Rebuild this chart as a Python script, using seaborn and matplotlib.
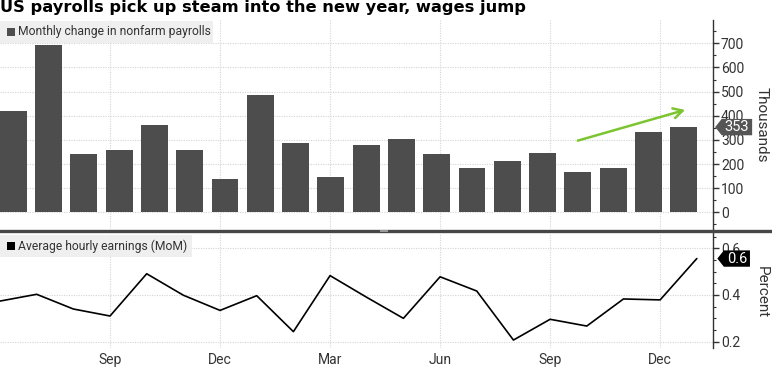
import matplotlib
matplotlib.use("Agg")
import numpy as np
import pandas as pd
import matplotlib.pyplot as plt
import seaborn as sns
from matplotlib.path import Path
from matplotlib.patches import Rectangle
from matplotlib.lines import Line2D
from matplotlib.ticker import MultipleLocator

# ---------------- data ----------------
months = ["Jun 2022", "Jul 2022", "Aug 2022", "Sep 2022", "Oct 2022", "Nov 2022",
          "Dec 2022", "Jan 2023", "Feb 2023", "Mar 2023", "Apr 2023", "May 2023",
          "Jun 2023", "Jul 2023", "Aug 2023", "Sep 2023", "Oct 2023", "Nov 2023",
          "Dec 2023", "Jan 2024"]
payrolls = [421, 691, 243, 257, 362, 260, 137, 484, 289, 148, 278, 304,
            242, 184, 212, 246, 166, 182, 334, 353]
earnings = [0.374, 0.403, 0.340, 0.310, 0.491, 0.399, 0.334, 0.397, 0.243, 0.483,
            0.390, 0.300, 0.478, 0.417, 0.207, 0.296, 0.267, 0.383, 0.379, 0.556]
xtick_months = [3, 6, 9, 12, 15, 18]
xtick_labels = ["Sep", "Dec", "Mar", "Jun", "Sep", "Dec"]
payroll_ticks = [0, 100, 200, 300, 400, 500, 600, 700]
earn_ticks = [0.2, 0.4, 0.6]
title = "US payrolls pick up steam into the new year, wages jump"
legend_top = "Monthly change in nonfarm payrolls"
legend_bot = "Average hourly earnings (MoM)"
trend_start = (16.0, 297)
trend_end = (19.04, 424)

# ---------------- style ----------------
sns.set_theme(style="white")
plt.rcParams["font.family"] = ["Roboto", "DejaVu Sans"]
TXT = "#333333"
GRID = "#d4d4d4"
BAR = "#4d4d4d"

W, H = 772, 368
fig = plt.figure(figsize=(W / 100, H / 100), dpi=100)
fig.patch.set_facecolor("white")


def rect(x0, y0, x1, y1):
    return [x0 / W, 1 - y1 / H, (x1 - x0) / W, (y1 - y0) / H]


ax1 = fig.add_axes(rect(0, 20, 713.3, 229))
ax2 = fig.add_axes(rect(0, 233, 713.3, 348))

# ---------------- top: bars ----------------
df_bar = pd.DataFrame({"month": months, "payrolls": payrolls})
sns.barplot(data=df_bar, x="month", y="payrolls", color=BAR, saturation=1,
            width=0.76, linewidth=0, ax=ax1, zorder=2)
ax1.set_xlim(-0.377, 19.84)
ax1.set_ylim(-69, 796.5)

# ---------------- bottom: line ----------------
df_line = pd.DataFrame({"idx": np.arange(len(months)), "earn": earnings})
sns.lineplot(data=df_line, x="idx", y="earn", color="black", linewidth=1.2,
             ax=ax2, zorder=3)
ax2.set_xlim(0, 19.45)
ax2.set_ylim(0.173, 0.6655)

# month gridlines in top axes aligned with bottom axes months
x2lo, x2hi = ax2.get_xlim()
x1lo, x1hi = ax1.get_xlim()
grid_top = [x1lo + (m - x2lo) / (x2hi - x2lo) * (x1hi - x1lo) for m in xtick_months]
ax1.set_xticks(grid_top)
ax1.set_xticklabels([""] * len(grid_top))
ax2.set_xticks(xtick_months)
ax2.set_xticklabels(xtick_labels)

for ax in (ax1, ax2):
    ax.set_xlabel("")
    ax.set_ylabel("")
    ax.yaxis.tick_right()
    for s in ("top", "left", "bottom"):
        ax.spines[s].set_visible(False)
    ax.spines["right"].set_color(TXT)
    ax.spines["right"].set_linewidth(1.0)
    ax.grid(True, color=GRID, linestyle=(0, (1, 1.2)), linewidth=0.8, zorder=0)
    ax.set_axisbelow(True)
    ax.tick_params(axis="x", length=0, pad=3.5, labelsize=10, labelcolor=TXT)
    ax.tick_params(axis="y", which="major", direction="out", length=4, width=1,
                   color=TXT, pad=1.5, labelsize=10, labelcolor=TXT,
                   right=True, left=False)
    ax.tick_params(axis="y", which="minor", direction="out", length=2.5, width=0.8,
                   color=TXT, right=True, left=False)

ax1.set_yticks(payroll_ticks)
ax1.yaxis.set_minor_locator(MultipleLocator(50))
ax2.set_yticks(earn_ticks)
ax2.set_yticklabels([f"{t:.1f}" for t in earn_ticks])
ax2.yaxis.set_minor_locator(MultipleLocator(0.05))

# axis titles
fig.text(762 / W, 1 - 125 / H, "Thousands", rotation=270, ha="center", va="center",
         fontsize=11, color=TXT)
fig.text(762 / W, 1 - 292 / H, "Percent", rotation=270, ha="center", va="center",
         fontsize=11, color=TXT)


# ---------------- value tags ----------------
def tag_box(x0, y0, width, height, mutation_size):
    padx = 0.2 * mutation_size
    pady = 0.08 * mutation_size
    x0, y0 = x0 - padx, y0 - pady
    width, height = width + 2 * padx, height + 2 * pady
    tip = height * 0.4
    verts = [(x0 - tip, y0 + height / 2), (x0, y0), (x0 + width, y0),
             (x0 + width, y0 + height), (x0, y0 + height),
             (x0 - tip, y0 + height / 2)]
    codes = [Path.MOVETO] + [Path.LINETO] * 4 + [Path.CLOSEPOLY]
    return Path(verts, codes)


ax1.annotate(f"{payrolls[-1]:.0f}", xy=(1, payrolls[-1]),
             xycoords=ax1.get_yaxis_transform(), xytext=(17, 0),
             textcoords="offset points", ha="center", va="center",
             fontsize=10.5, color="white", annotation_clip=False, zorder=10,
             bbox=dict(boxstyle=tag_box, facecolor="#555555", edgecolor="none"))
ax2.annotate(f"{earnings[-1]:.1f}", xy=(1, earnings[-1]),
             xycoords=ax2.get_yaxis_transform(), xytext=(17, 0),
             textcoords="offset points", ha="center", va="center",
             fontsize=10.5, color="white", annotation_clip=False, zorder=10,
             bbox=dict(boxstyle=tag_box, facecolor="black", edgecolor="none"))

# trend arrow
ax1.annotate("", xy=trend_end, xytext=trend_start,
             arrowprops=dict(arrowstyle="->,head_length=0.55,head_width=0.3",
                             color="#7cc530", lw=1.8, shrinkA=0, shrinkB=0),
             zorder=6)

# ---------------- legends ----------------
def legend_box(x1, y0, y1, label, marker_color):
    fig.add_artist(Rectangle((0, 1 - y1 / H), x1 / W, (y1 - y0) / H,
                             transform=fig.transFigure, facecolor="#eeeeee",
                             edgecolor="none", alpha=0.9, zorder=5))
    yc = (y0 + y1) / 2
    fig.add_artist(Rectangle((7 / W, 1 - (yc + 4) / H), 8 / W, 8 / H,
                             transform=fig.transFigure, facecolor=marker_color,
                             edgecolor="none", zorder=6))
    fig.text(18 / W, 1 - yc / H, label, ha="left", va="center", fontsize=8.7,
             color=TXT, zorder=7)


legend_box(213, 20.7, 43.3, legend_top, BAR)
legend_box(192, 235, 257.3, legend_bot, "black")

# separator between panels
fig.add_artist(Line2D([0, 1], [1 - 231 / H, 1 - 231 / H], transform=fig.transFigure,
                      color="#474747", linewidth=2.4, zorder=8))
fig.add_artist(Rectangle((380 / W, 1 - 232 / H), 8 / W, 2 / H,
                         transform=fig.transFigure, facecolor="#9a9a9a",
                         edgecolor="none", zorder=9))

# title
fig.text(0, 1 - 12.3 / H, title, ha="left", va="baseline", fontsize=11.7,
         fontweight="bold", color="black", family=["DejaVu Sans"])

fig.savefig("out.png", dpi=100, facecolor="white")
